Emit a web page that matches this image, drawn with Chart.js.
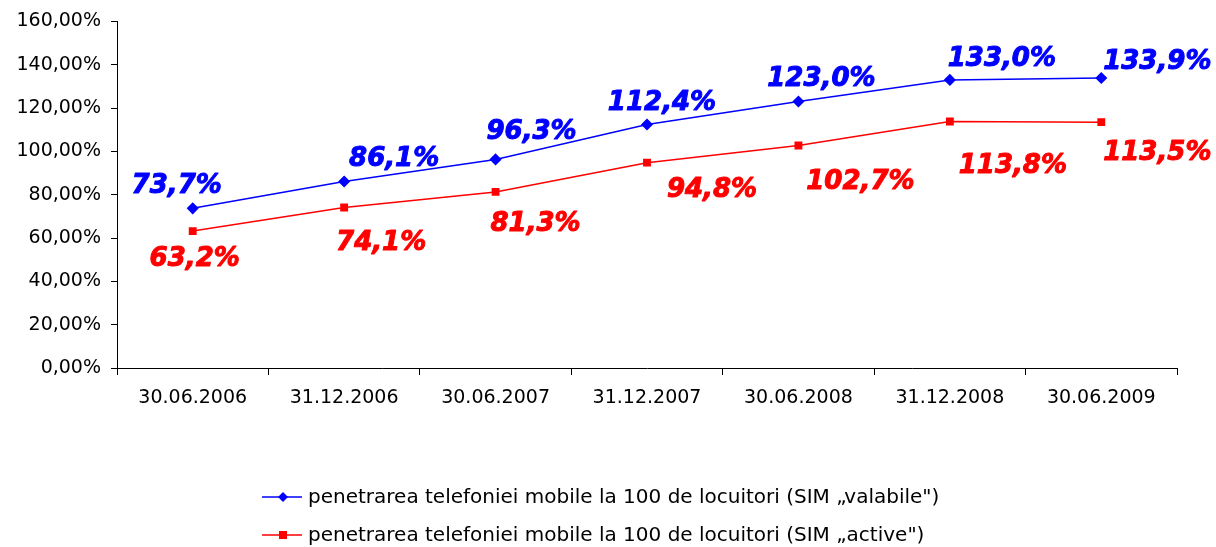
<!DOCTYPE html>
<html>
<head>
<meta charset="utf-8">
<script src="https://cdn.jsdelivr.net/npm/chart.js@4/dist/chart.umd.min.js"></script>
<style>
  html, body { margin: 0; padding: 0; background: #fff; }
  #wrap { width: 1216px; height: 547px; }
</style>
</head>
<body>
<div id="wrap"><canvas id="chart" width="1216" height="547"></canvas></div>
<script>
const dates = ['30.06.2006', '31.12.2006', '30.06.2007', '31.12.2007', '30.06.2008', '31.12.2008', '30.06.2009'];
const simValabile = [73.7, 86.1, 96.3, 112.4, 123.0, 133.0, 133.9];
const simActive = [63.2, 74.1, 81.3, 94.8, 102.7, 113.8, 113.5];
const yTicks = [0, 20, 40, 60, 80, 100, 120, 140, 160];
const seriesNames = [
    'penetrarea telefoniei mobile la 100 de locuitori (SIM „valabile")',
    'penetrarea telefoniei mobile la 100 de locuitori (SIM „active")'
];

// label nudges (px) relative to each point, as placed in the original
const labelShift = [
    [[-16, -22], [50, -22], [36, -27], [15, -21], [23, -22], [52, -21], [56, -16]],
    [[2, 28], [37, 36], [40, 32], [65, 28], [62, 37], [63, 45], [56, 31]]
];

const fmtPct = v => v.toFixed(1).replace('.', ',') + '%';

const pointLabels = {
    id: 'pointLabels',
    afterDatasetsDraw(chart) {
        const c = chart.ctx;
        c.save();
        c.font = 'italic bold 26px "DejaVu Sans"';
        c.textAlign = 'center';
        c.textBaseline = 'middle';
        c.lineWidth = 1;
        c.lineJoin = 'round';
        chart.data.datasets.forEach((ds, di) => {
            c.fillStyle = ds.borderColor;
            c.strokeStyle = ds.borderColor;
            chart.getDatasetMeta(di).data.forEach((pt, i) => {
                const s = labelShift[di][i];
                const txt = fmtPct(ds.data[i]);
                c.fillText(txt, pt.x + s[0], pt.y + s[1]);
                c.strokeText(txt, pt.x + s[0], pt.y + s[1]);
            });
        });
        c.restore();
    }
};

const bottomLegend = {
    id: 'bottomLegend',
    afterDraw(chart) {
        const c = chart.ctx;
        c.save();
        c.font = '20px "DejaVu Sans"';
        c.textBaseline = 'middle';
        c.textAlign = 'left';
        chart.data.datasets.forEach((ds, di) => {
            const y = 497 + di * 38;
            c.strokeStyle = ds.borderColor;
            c.fillStyle = ds.borderColor;
            c.lineWidth = 1.5;
            c.beginPath(); c.moveTo(262, y); c.lineTo(302, y); c.stroke();
            if (di === 0) {
                c.beginPath();
                c.moveTo(283, y - 5); c.lineTo(288, y); c.lineTo(283, y + 5); c.lineTo(278, y);
                c.closePath(); c.fill();
            } else {
                c.fillRect(279, y - 4, 8, 8);
            }
            c.fillStyle = '#000';
            c.fillText(ds.label, 308, y + 1);
        });
        c.restore();
    }
};

new Chart(document.getElementById('chart'), {
    type: 'line',
    data: {
        labels: dates,
        datasets: [{
            label: seriesNames[0],
            data: simValabile,
            borderColor: '#0000FF',
            backgroundColor: '#0000FF',
            borderWidth: 1.5,
            pointStyle: 'rectRot',
            pointRadius: 5,
            pointHoverRadius: 5,
            tension: 0
        }, {
            label: seriesNames[1],
            data: simActive,
            borderColor: '#FF0000',
            backgroundColor: '#FF0000',
            borderWidth: 1.5,
            pointStyle: 'rect',
            pointRadius: 4.5,
            pointHoverRadius: 4.5,
            tension: 0
        }]
    },
    options: {
        responsive: false,
        animation: false,
        layout: { padding: { left: 0, top: 20, right: 39, bottom: 119 } },
        scales: {
            x: {
                offset: true,
                grid: { offset: true, drawOnChartArea: false, tickLength: 7, color: '#000' },
                border: { color: '#000', width: 1 },
                ticks: { color: '#000', font: { family: 'DejaVu Sans', size: 19 }, padding: 12, maxRotation: 0 },
                afterFit(scale) { scale.height = 60; }
            },
            y: {
                min: 0,
                max: 160,
                afterBuildTicks(scale) { scale.ticks = yTicks.map(v => ({ value: v })); },
                grid: { drawOnChartArea: false, tickLength: 6, color: '#000' },
                border: { color: '#000', width: 1 },
                ticks: {
                    color: '#000',
                    font: { family: 'DejaVu Sans', size: 19 },
                    padding: 10,
                    callback: v => v.toFixed(2).replace('.', ',') + '%'
                },
                afterFit(scale) { scale.width = 117; }
            }
        },
        plugins: {
            legend: { display: false },
            tooltip: { enabled: false }
        }
    },
    plugins: [pointLabels, bottomLegend]
});
</script>
</body>
</html>
